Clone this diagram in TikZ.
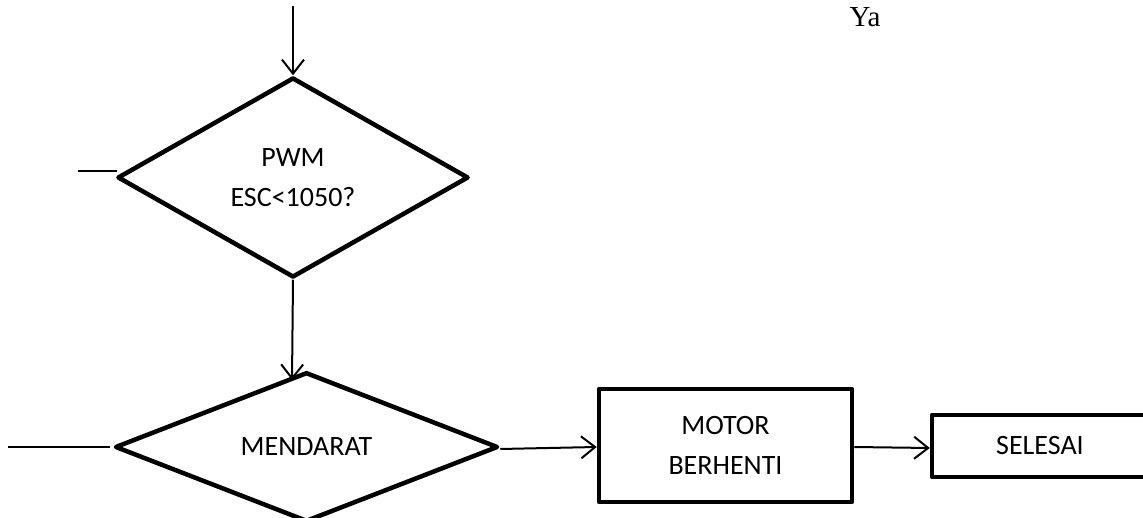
\documentclass[tikz,border=0pt]{standalone}
\usepackage{fontspec}
\setmainfont{Carlito}
\newfontfamily\serifya{Liberation Serif}
\usetikzlibrary{shapes.geometric,arrows.meta}
\begin{document}
\begin{tikzpicture}[x=1pt,y=-1pt,
  box/.style={draw,line width=4.5pt,line join=round,inner sep=0pt,align=center,
    font=\fontsize{28}{40}\selectfont},
  dec/.style={box,shape=diamond},
  conn/.style={line width=2pt},
  arr/.style={conn,-{Straight Barb[length=14pt,width=22pt,line width=2pt]}}]
\useasboundingbox (0,0) rectangle (1143,518);
\clip (0,0) rectangle (1143,518);
\node[dec,minimum width=351pt,minimum height=200pt] (d1) at (293,177.5) {PWM\\ESC<1050?};
\node[dec,minimum width=383pt,minimum height=136pt] (d2) at (306.5,447) {MENDARAT};
\node[box,rectangle,minimum width=253pt,minimum height=113pt] (r1) at (725.5,445.5) {MOTOR\\BERHENTI};
\node[box,rectangle,minimum width=216pt,minimum height=62pt] (r2) at (1040,446) {SELESAI};
\node[font=\serifya\fontsize{29}{34}\selectfont,inner sep=0pt] (ya) at (865,17) {Ya};
\coordinate (top) at (293,6);
\coordinate (mid) at (292,380);
\coordinate (l1a) at (78,171);
\coordinate (l1b) at (117,171);
\coordinate (l2a) at (8,447);
\draw[arr] (top) -- (d1.north);
\draw[arr] (d1.south) -- (mid);
\draw[conn] (l1a) -- (l1b);
\draw[conn] (l2a) -- ([xshift=-3pt]d2.west);
\draw[arr] ([yshift=-2pt]d2.east) -- ([yshift=-1.5pt]r1.west);
\draw[arr] ([yshift=-1.5pt]r1.east) -- ([yshift=-2pt]r2.west);
\end{tikzpicture}
\end{document}
